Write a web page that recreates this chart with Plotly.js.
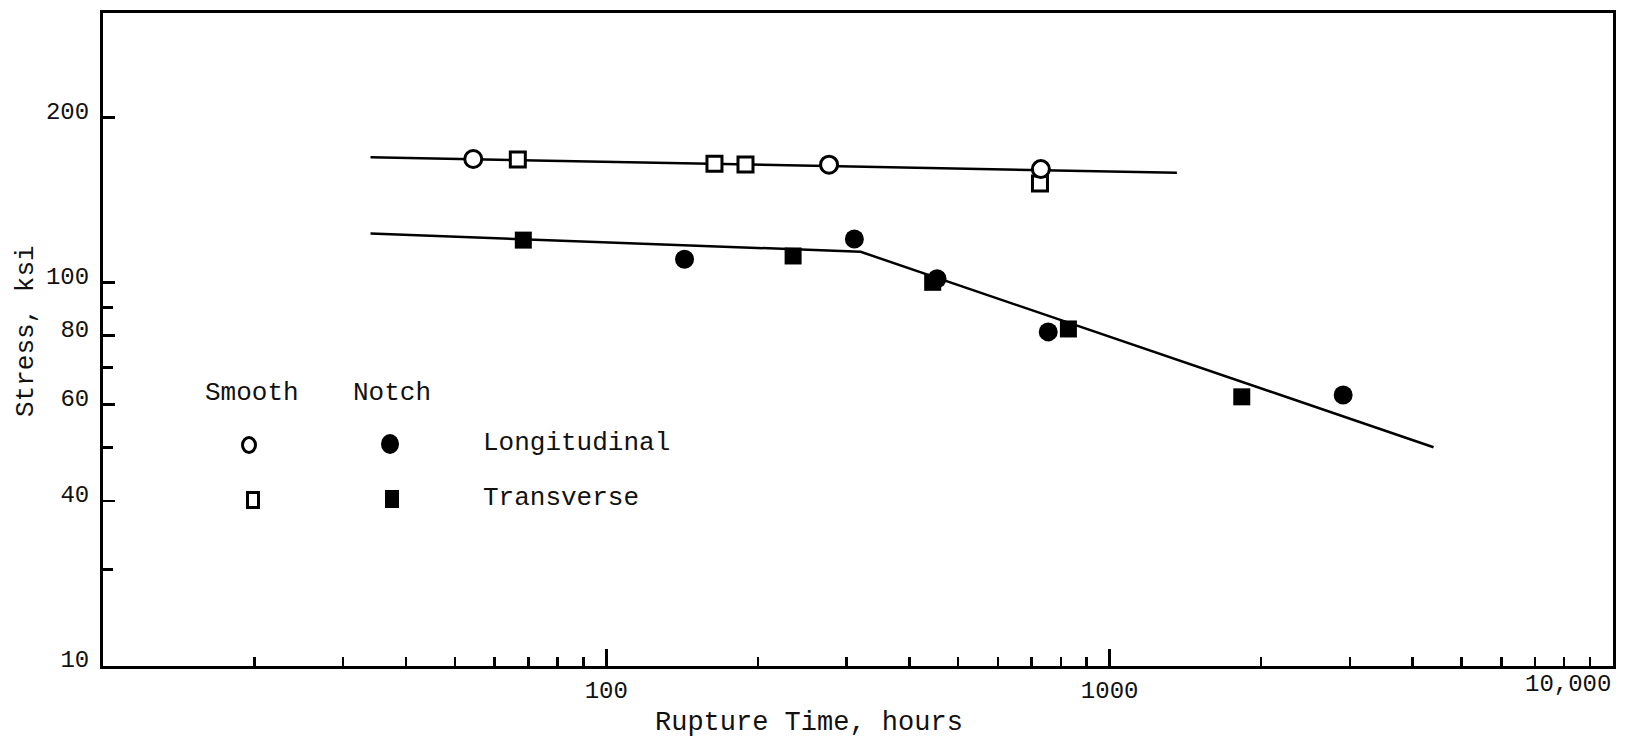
<!DOCTYPE html>
<html>
<head>
<meta charset="utf-8">
<script src="https://cdn.plot.ly/plotly-3.0.1.min.js"></script>
<style>
  html, body { margin: 0; padding: 0; background: #fff; }
  #chart { width: 1628px; height: 740px; }
</style>
</head>
<body>
<div id="chart"></div>
<script>
// ---- Data ----
// Rupture time (hours) and stress (ksi)
const smoothLongX  = [54.4, 277, 730];
const smoothLongY  = [168, 164, 161];
const smoothTransX = [66.7, 164, 189, 727];
const smoothTransY = [167.6, 164.6, 164.1, 151.6];
const notchLongX   = [143, 311, 454, 755, 2910];
const notchLongY   = [110.3, 120.1, 101.6, 81.3, 62.4];
const notchTransX  = [68.4, 235, 445, 828, 1830];
const notchTransY  = [119.5, 111.8, 100.1, 82.3, 61.9];

// Fitted curves
const smoothFitX = [34, 1360];
const smoothFitY = [169.2, 158.5];
const notchFitX  = [34, 320, 4400];
const notchFitY  = [122.8, 113.8, 50.1];

// Axes
const xMin = 10, xMax = 10000;
const yMin = 20, yMax = 310;
const xTickVals  = [100, 1000];
const xTickText  = ['100', '1000'];
const xEdgeLabel = '10,000';
const xMinorVals = [20, 30, 40, 50, 60, 70, 80, 90,
                    200, 300, 400, 500, 600, 700, 800, 900,
                    2000, 3000, 4000, 5000, 6000, 7000, 8000, 9000];
const yTickVals  = [20, 40, 60, 80, 100, 200];
const yTickText  = ['10', '40', '60', '80', '100', '200'];
const yMinorVals = [30, 50, 70, 90];

const xTitle = 'Rupture Time, hours';
const yTitle = 'Stress, ksi';
const legendCols = ['Smooth', 'Notch'];
const legendRows = ['Longitudinal', 'Transverse'];

// ---- Styling ----
const FONT = 'Liberation Mono, Courier New, monospace';
const INK = '#111';

const markerOpen = (sym, size) => ({symbol: sym, size: size, color: '#fff', line: {color: '#000', width: 3}});
const markerFill = (sym, size) => ({symbol: sym, size: size, color: '#000', line: {color: '#000', width: 0}});

const traces = [
  {x: smoothFitX, y: smoothFitY, mode: 'lines', line: {color: '#000', width: 2.5}, hoverinfo: 'skip'},
  {x: notchFitX, y: notchFitY, mode: 'lines', line: {color: '#000', width: 2.5}, hoverinfo: 'skip'},
  {x: smoothTransX, y: smoothTransY, mode: 'markers', name: 'Smooth Transverse', marker: markerOpen('square', 15)},
  {x: smoothLongX, y: smoothLongY, mode: 'markers', name: 'Smooth Longitudinal', marker: markerOpen('circle', 17)},
  {x: notchTransX, y: notchTransY, mode: 'markers', name: 'Notch Transverse', marker: markerFill('square', 17)},
  {x: notchLongX, y: notchLongY, mode: 'markers', name: 'Notch Longitudinal', marker: markerFill('circle', 19)}
];

const L = 103, R = 15, T = 13, B = 74;
const plotW = 1628 - L - R, plotH = 740 - T - B;
const px = v => (v - L) / plotW;           // page x -> paper x
const py = v => (740 - B - v) / plotH;     // page y -> paper y

// Legend key glyphs (layout elements, not data)
function keyShape(type, xc, yc, w, h, filled) {
  return {
    type: type, xref: 'paper', yref: 'paper',
    xsizemode: 'pixel', ysizemode: 'pixel',
    xanchor: px(xc), yanchor: py(yc),
    x0: -w / 2, x1: w / 2, y0: -h / 2, y1: h / 2,
    fillcolor: filled ? '#000' : '#fff',
    line: {color: '#000', width: filled ? 0 : 3}
  };
}
const shapes = [
  keyShape('circle', 249, 445, 13, 15, false),
  keyShape('circle', 390, 444, 18, 20, true),
  keyShape('rect', 253, 500, 11, 15, false),
  keyShape('rect', 392, 499, 14, 18, true)
];

const ann = (text, x, y, xanchor, size, extra) => Object.assign({
  text: text, xref: 'paper', yref: 'paper', x: x, y: y,
  xanchor: xanchor, yanchor: 'middle', showarrow: false,
  font: {family: FONT, size: size, color: INK}
}, extra || {});

const annotations = [
  ann(legendCols[0], px(252), py(393), 'center', 26),
  ann(legendCols[1], px(392), py(393), 'center', 26),
  ann(legendRows[0], px(481), py(443), 'left', 26),
  ann(legendRows[1], px(481), py(498), 'left', 26),
  ann(xTitle, px(809), py(723), 'center', 27),
  ann(yTitle, px(26), py(331), 'center', 26, {textangle: -90}),
  ann(xEdgeLabel, 1, py(684), 'right', 24)
];

const layout = {
  width: 1628, height: 740,
  margin: {l: L, r: R, t: T, b: B, pad: 0},
  paper_bgcolor: '#fff', plot_bgcolor: '#fff',
  showlegend: false,
  font: {family: FONT, color: INK},
  xaxis: {
    type: 'log', range: [Math.log10(xMin), Math.log10(xMax)],
    showgrid: false, zeroline: false,
    showline: true, mirror: true, linecolor: '#000', linewidth: 3,
    tickmode: 'array', tickvals: xTickVals, ticktext: xTickText,
    ticks: 'inside', ticklen: 17, tickwidth: 2.5, tickcolor: '#000',
    ticklabelstandoff: 0,
    tickfont: {family: FONT, size: 24, color: INK},
    minor: {tickmode: 'array', tickvals: xMinorVals, ticks: 'inside', ticklen: 9, tickwidth: 2.5, tickcolor: '#000', showgrid: false}
  },
  yaxis: {
    type: 'log', range: [Math.log10(yMin), Math.log10(yMax)],
    showgrid: false, zeroline: false,
    showline: true, mirror: true, linecolor: '#000', linewidth: 3,
    tickmode: 'array', tickvals: yTickVals, ticktext: yTickText,
    ticks: 'inside', ticklen: 12, tickwidth: 2.5, tickcolor: '#000',
    ticklabelstandoff: 6, ticklabelshift: -7,
    tickfont: {family: FONT, size: 24, color: INK},
    minor: {tickmode: 'array', tickvals: yMinorVals, ticks: 'inside', ticklen: 10, tickwidth: 2.5, tickcolor: '#000', showgrid: false}
  },
  shapes: shapes,
  annotations: annotations
};

Plotly.newPlot('chart', traces, layout, {staticPlot: true, displayModeBar: false});
</script>
</body>
</html>
